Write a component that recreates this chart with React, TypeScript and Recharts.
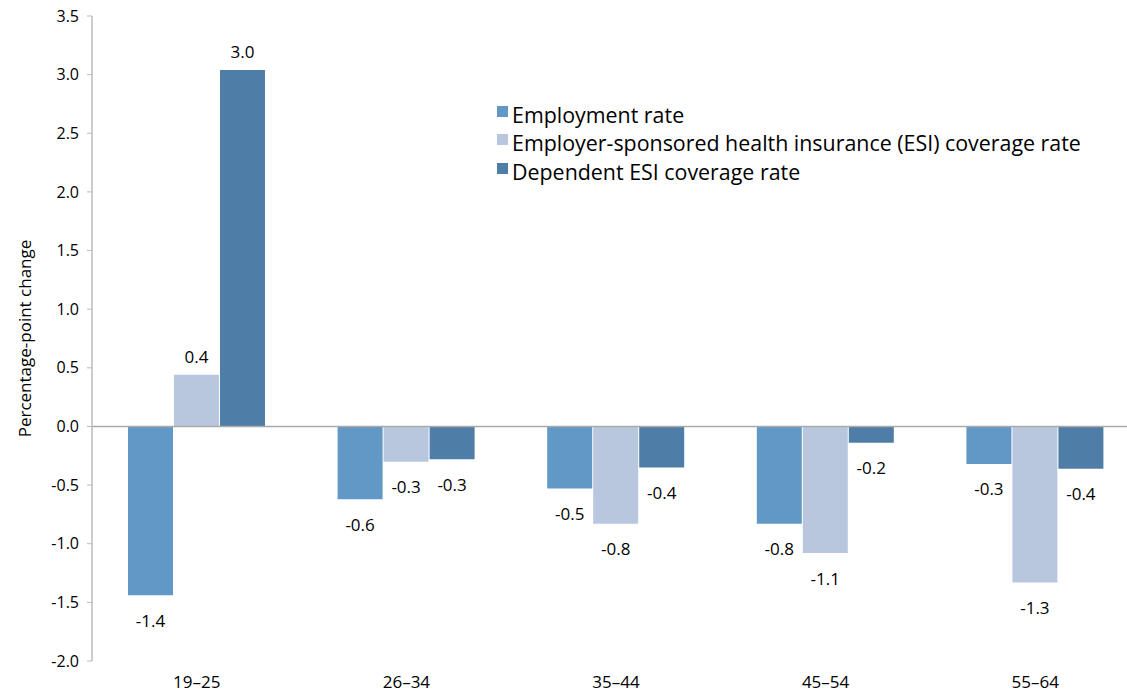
import React from 'react';
import { Bar, BarChart, LabelList, Legend, ReferenceLine, XAxis, YAxis } from 'recharts';

const ageGroups = ['19–25', '26–34', '35–44', '45–54', '55–64'];
const employment = [-1.44, -0.62, -0.53, -0.83, -0.32];
const esiCoverage = [0.44, -0.3, -0.83, -1.08, -1.33];
const dependentEsi = [3.04, -0.28, -0.35, -0.14, -0.36];
const employmentLabels = ['-1.4', '-0.6', '-0.5', '-0.8', '-0.3'];
const esiLabels = ['0.4', '-0.3', '-0.8', '-1.1', '-1.3'];
const dependentLabels = ['3.0', '-0.3', '-0.4', '-0.2', '-0.4'];
const yTicks = [3.5, 3.0, 2.5, 2.0, 1.5, 1.0, 0.5, 0.0, -0.5, -1.0, -1.5, -2.0];

const series = [
  { key: 'employment', name: 'Employment rate', color: '#6198c5', labels: employmentLabels },
  { key: 'esi', name: 'Employer-sponsored health insurance (ESI) coverage rate', color: '#b8c7de', labels: esiLabels },
  { key: 'dependent', name: 'Dependent ESI coverage rate', color: '#4e7ea8', labels: dependentLabels },
];

const data = ageGroups.map((age, i) => ({
  age,
  employment: employment[i],
  esi: esiCoverage[i],
  dependent: dependentEsi[i],
}));

const font = '"Open Sans", "Noto Sans", sans-serif';

function makeLabel(labels: string[]) {
  return (props: any) => {
    const { x, y, width, height, index, value } = props;
    const top = Math.min(y, y + height);
    const bottom = Math.max(y, y + height);
    const ly = value >= 0 ? top - 18 : bottom + 25;
    return (
      <text x={x + width / 2} y={ly} textAnchor="middle" dominantBaseline="central"
        fontSize={17} fill="#000" fontFamily={font}>
        {labels[index]}
      </text>
    );
  };
}

function LegendBox() {
  return (
    <div style={{ fontFamily: font, fontSize: 21.4, color: '#000' }}>
      {series.map((s) => (
        <div key={s.key} style={{ display: 'flex', alignItems: 'center', height: 28.5, whiteSpace: 'nowrap' }}>
          <span style={{ width: 11, height: 11, background: s.color, marginRight: 4, marginTop: -6 }} />
          <span>{s.name}</span>
        </div>
      ))}
    </div>
  );
}

export default function App() {
  return (
    <div style={{ position: 'absolute', top: 0, left: 0, width: 1127, height: 695, overflow: 'hidden', background: '#fff' }}>
      <BarChart width={1140} height={695} data={data}
        margin={{ top: 16, right: 0, left: 0, bottom: 0 }}
        barCategoryGap={35} barGap={1}>
        <XAxis dataKey="age" axisLine={false} tickLine={false} height={34}
          tick={{ fontSize: 17, fill: '#000', fontFamily: font }} tickMargin={9} />
        <YAxis domain={[-2, 3.5]} ticks={yTicks} interval={0} width={92}
          tickFormatter={(v: number) => v.toFixed(1)}
          axisLine={{ stroke: '#bbb', strokeWidth: 1.5 }} tickLine={{ stroke: '#bbb' }} tickSize={5}
          tick={{ fontSize: 16, fill: '#000', fontFamily: font }} tickMargin={8}
          label={{ value: 'Percentage-point change', angle: -90, position: 'insideLeft', offset: 25,
            style: { fontSize: 17, fill: '#000', fontFamily: font, textAnchor: 'middle' } }} />
        <ReferenceLine y={0} stroke="#aaa" strokeWidth={1.5} />
        <Legend layout="vertical" verticalAlign="middle" align="center" content={<LegendBox />}
          wrapperStyle={{ top: 100, left: 497, width: 620 }} />
        {series.map((s) => (
          <Bar key={s.key} dataKey={s.key} name={s.name} fill={s.color} barSize={45} isAnimationActive={false}>
            <LabelList dataKey={s.key} content={makeLabel(s.labels)} />
          </Bar>
        ))}
      </BarChart>
    </div>
  );
}
